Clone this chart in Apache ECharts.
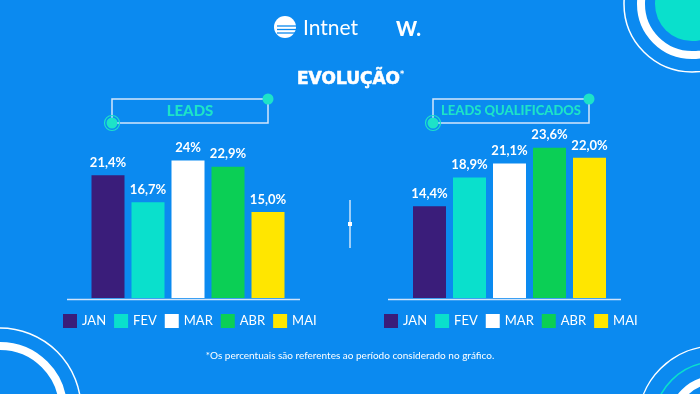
<!DOCTYPE html>
<html><head><meta charset="utf-8">
<script src="https://cdn.jsdelivr.net/npm/echarts@6/dist/echarts.min.js"></script>
<style>html,body{margin:0;padding:0;background:#0b8af0;}#c{width:700px;height:394px;}</style>
</head><body><div id="c"></div>
<script>
const months = ['JAN','FEV','MAR','ABR','MAI'];
const colors = ['#3a1d7a','#0ae0cc','#ffffff','#0bcf55','#ffe600'];
const leadsValues = [21.4, 16.7, 24.0, 22.9, 15.0];
const leadsLabels = ['21,4%','16,7%','24%','22,9%','15,0%'];
const qualValues = [14.4, 18.9, 21.1, 23.6, 22.0];
const qualLabels = ['14,4%','18,9%','21,1%','23,6%','22,0%'];

const chart = echarts.init(document.getElementById('c'));
const F = 'Lato';
function mkSeries(values, labels, idx, stack){
  return months.map((m,i)=>({
    type:'bar', name:m, stack:stack, xAxisIndex:idx, yAxisIndex:idx,
    barWidth:33, itemStyle:{color:colors[i]},
    data: months.map((_,j)=> j===i ? values[j] : '-'),
    label:{show:true, position:'top', distance:6, color:'#fff', fontFamily:F, fontWeight:'bold', fontSize:13,
      formatter:(p)=>labels[p.dataIndex]},
    emphasis:{disabled:true}
  }));
}
const ringColor = '#d4e6fb';
function box(x1,y1,x2,y2,label,fs,cx){
  return [
    {type:'rect', shape:{x:x1,y:y1,width:x2-x1,height:y2-y1}, style:{fill:'none', stroke:ringColor, lineWidth:1.5}},
    {type:'circle', shape:{cx:x2,cy:y1,r:5.5}, style:{fill:'#1de3c8'}},
    {type:'circle', shape:{cx:x1,cy:y2,r:7.5}, style:{fill:'none', stroke:'#1de3c8', lineWidth:1.2}},
    {type:'circle', shape:{cx:x1,cy:y2,r:5.5}, style:{fill:'#1de3c8'}},
    {type:'text', x:cx, y:(y1+y2)/2, style:{text:label, fill:'#1de3c8', font:'900 '+fs+'px '+F, textAlign:'center', textVerticalAlign:'middle'}}
  ];
}
const graphics = [
  {type:'circle', shape:{cx:692,cy:4,r:37}, style:{fill:'#0ae0cc'}},
  {type:'circle', shape:{cx:692,cy:4,r:51}, style:{fill:'none', stroke:'#fff', lineWidth:8}},
  {type:'circle', shape:{cx:692,cy:4,r:68}, style:{fill:'none', stroke:'#fff', lineWidth:1.5}},
  {type:'circle', shape:{cx:0,cy:409,r:63}, style:{fill:'none', stroke:'#fff', lineWidth:8}},
  {type:'circle', shape:{cx:0,cy:409,r:81}, style:{fill:'none', stroke:'#fff', lineWidth:1.5}},
  {type:'circle', shape:{cx:715,cy:423,r:43}, style:{fill:'none', stroke:'#fff', lineWidth:8}},
  {type:'circle', shape:{cx:715,cy:423,r:61}, style:{fill:'none', stroke:'#0ae0cc', lineWidth:1.5}},
  {type:'circle', shape:{cx:715,cy:423,r:77}, style:{fill:'none', stroke:'#fff', lineWidth:1.5}},
  {type:'circle', shape:{cx:285,cy:27,r:11}, style:{fill:'#fff'}},
  {type:'line', shape:{x1:277,y1:26,x2:297,y2:26}, style:{stroke:'#0b8af0', lineWidth:1.3}},
  {type:'line', shape:{x1:277,y1:29.5,x2:297,y2:29.5}, style:{stroke:'#0b8af0', lineWidth:1.3}},
  {type:'line', shape:{x1:277,y1:33,x2:297,y2:33}, style:{stroke:'#0b8af0', lineWidth:1.3}},
  {type:'text', x:303, y:28, style:{text:'Intnet', fill:'#fff', font:'21px '+F, textVerticalAlign:'middle'}},
  {type:'text', x:396, y:30, style:{text:'W.', fill:'#fff', font:'900 20px '+F, textVerticalAlign:'middle'}},
  {type:'text', x:297, y:80, style:{text:'EVOLUÇÃO', fill:'#fff', font:'bold 17px "DejaVu Sans"', textVerticalAlign:'middle', stroke:'#fff', lineWidth:0.6}},
  {type:'text', x:400, y:75, style:{text:'*', fill:'#fff', font:'bold 8px "DejaVu Sans"', textVerticalAlign:'middle'}},
  {type:'line', shape:{x1:350,y1:200,x2:350,y2:248}, style:{stroke:'#cfe4fb', lineWidth:1.5}},
  {type:'rect', shape:{x:348,y:222,width:4,height:4}, style:{fill:'#fff'}},
  {type:'line', shape:{x1:67,y1:299.5,x2:300,y2:299.5}, style:{stroke:'#cfe4fb', lineWidth:1.5}},
  {type:'line', shape:{x1:388,y1:299.5,x2:621,y2:299.5}, style:{stroke:'#cfe4fb', lineWidth:1.5}},
  {type:'text', x:350, y:356, style:{text:'*Os percentuais são referentes ao período considerado no gráfico.', fill:'#fff', font:'10px '+F, textAlign:'center', textVerticalAlign:'middle'}}
].concat(box(112,99,268,123,'LEADS',15,190)).concat(box(433,99,589,123,'LEADS QUALIFICADOS',13,511));

const legendBase = {data:months, icon:'rect', itemWidth:14, itemHeight:14, itemGap:8, padding:0, selectedMode:false,
  textStyle:{color:'#fff', fontFamily:F, fontSize:13}};
chart.setOption({
  backgroundColor:'#0b8af0',
  animation:false,
  grid:[{left:88, width:200, top:126, height:172},{left:409.5, width:200, top:126, height:172}],
  xAxis:[0,1].map(i=>({type:'category', gridIndex:i, data:months, axisLine:{show:false}, axisTick:{show:false}, axisLabel:{show:false}})),
  yAxis:[{type:'value', gridIndex:0, min:0, max:30, show:false},{type:'value', gridIndex:1, min:0, max:27, show:false}],
  legend:[Object.assign({left:63, top:314}, legendBase), Object.assign({left:384, top:314}, legendBase)],
  series: mkSeries(leadsValues, leadsLabels, 0, 'L').concat(mkSeries(qualValues, qualLabels, 1, 'R')),
  graphic: graphics
});
</script></body></html>
